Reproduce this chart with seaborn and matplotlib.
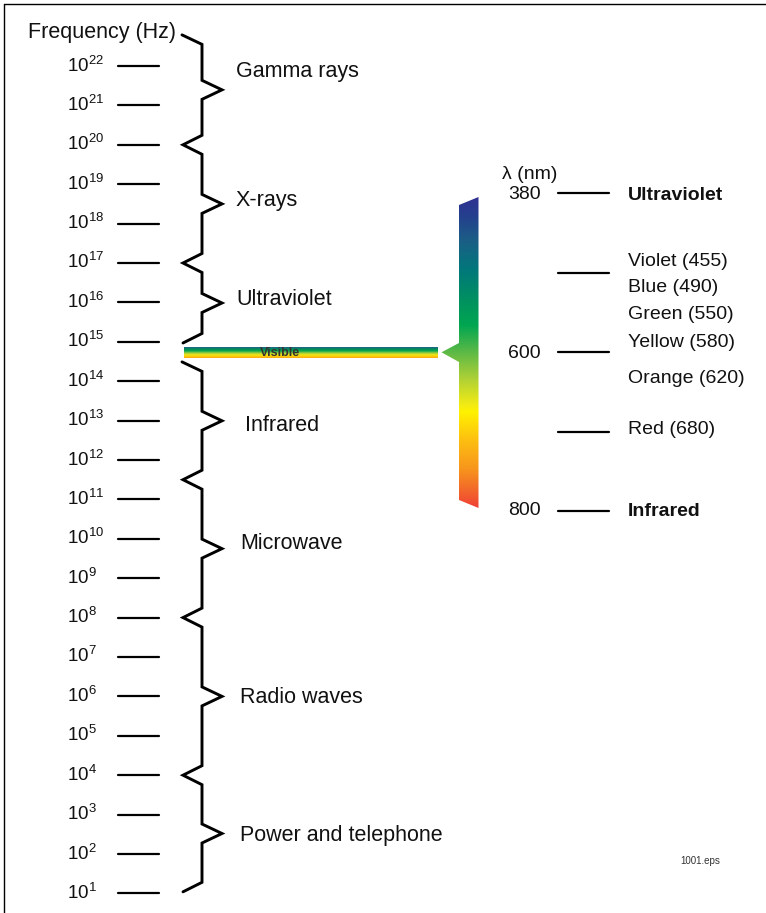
import numpy as np
import pandas as pd
import matplotlib
matplotlib.use("Agg")
import matplotlib.pyplot as plt
from matplotlib.colors import LinearSegmentedColormap
from matplotlib.patches import Polygon
from matplotlib.lines import Line2D
import seaborn as sns

# ---------------- data ----------------
freq_exponents = list(range(22, 0, -1))          # tick labels 10^22 ... 10^1
band_names = ["Gamma rays", "X-rays", "Ultraviolet",
              "Infrared", "Microwave", "Radio waves", "Power and telephone"]
band_upper = [22.79, 20.0, 17.0, 14.49, 11.5, 8.0, 4.0]   # log10(Hz)
band_lower = [20.0, 17.0, 14.97, 11.5, 8.0, 4.0, 1.04]
band_group = [0, 0, 0, 1, 1, 1, 1]
visible_upper = 14.87
visible_lower = 14.60

wl_ticks = ["380", "", "600", "", "800"]          # wavelength scale (nm)
wl_edge_labels = ["Ultraviolet", "Infrared"]
colour_labels = ["Violet (455)", "Blue (490)", "Green (550)",
                 "Yellow (580)", "Orange (620)", "Red (680)"]

# ---------------- style / layout ----------------
sns.set_theme(style="white")
plt.rcParams["font.family"] = ["Liberation Sans", "DejaVu Sans"]
plt.rcParams["mathtext.fontset"] = "custom"
plt.rcParams["mathtext.rm"] = "Liberation Sans"
plt.rcParams["mathtext.it"] = "Liberation Sans:italic"
plt.rcParams["mathtext.bf"] = "Liberation Sans:bold"

W, H = 766, 913
PX_DEC = 39.4            # pixels per decade
Y22 = 66.0               # pixel row of 10^22
SLOT = 79.5              # pixels per wavelength slot
Y380 = 193.0


def e_of_py(py):
    return 22 - (py - Y22) / PX_DEC


def s_of_py(py):
    return (py - Y380) / SLOT


fig = plt.figure(figsize=(W / 100, H / 100), dpi=100)
ax = fig.add_axes([0, 0, 1, 1])
ax2 = fig.add_axes([0, 0, 1, 1], facecolor="none")

TXT = "#111111"

# ---- frequency ticks ----
tick_df = pd.DataFrame({
    "x": [118, 159] * len(freq_exponents),
    "y": [e for e in freq_exponents for _ in range(2)],
    "unit": [e for e in freq_exponents for _ in range(2)],
})
sns.lineplot(data=tick_df, x="x", y="y", units="unit", estimator=None,
             sort=False, color="black", lw=1.6, legend=False, ax=ax)

for e in freq_exponents:
    ax.text(67, e_of_py(Y22 + (22 - e) * PX_DEC + 5.5),
            r"$\mathregular{10^{%d}}$" % e, fontsize=13.5, color=TXT,
            ha="left", va="baseline")

ax.text(28, e_of_py(38), "Frequency (Hz)", fontsize=15.5, color=TXT,
        ha="left", va="baseline")

# ---- braces ----
d = 9.5 / PX_DEC
rows = []
for g in sorted(set(band_group)):
    idx = [i for i, bg in enumerate(band_group) if bg == g]
    top = band_upper[idx[0]]
    pts = [(182, top), (202, top - d)]
    for k, i in enumerate(idx):
        mid = (band_upper[i] + band_lower[i]) / 2
        pts += [(202, mid + d), (222, mid), (202, mid - d)]
        b = band_lower[i]
        if k < len(idx) - 1:
            pts += [(202, b + d), (183, b), (202, b - d)]
        else:
            pts += [(202, b + d), (183, b)]
    for j, (x, y) in enumerate(pts):
        rows.append({"x": x, "y": y, "grp": g, "o": j})
brace_df = pd.DataFrame(rows)
sns.lineplot(data=brace_df, x="x", y="y", units="grp", estimator=None,
             sort=False, color="black", lw=2.1, legend=False, ax=ax,
             solid_joinstyle="miter")

label_x = [236, 236, 236, 245, 240, 240, 240]
label_dy = [-21, -6, -6, 3, -7, -1, 0]
for name, up, lo, lx, dy in zip(band_names, band_upper, band_lower, label_x, label_dy):
    mid = (up + lo) / 2
    py_mid = Y22 + (22 - mid) * PX_DEC + dy
    ax.text(lx, e_of_py(py_mid + 7.7), name, fontsize=15.5, color=TXT,
            ha="left", va="baseline")

# ---- visible band ----
vis_cmap = LinearSegmentedColormap.from_list(
    "vis", ["#24618c", "#00885a", "#00a650", "#7cc242", "#e3e51f",
            "#ffd400", "#f7a51c"])
grad = np.linspace(0, 1, 64).reshape(-1, 1)
ax.imshow(grad, cmap=vis_cmap, aspect="auto", origin="upper",
          extent=(184, 438, visible_lower, visible_upper), zorder=2)
ax.text(260, e_of_py(355.5), "Visible", fontsize=9, fontweight="bold",
        color="#333333", ha="left", va="baseline", zorder=3)

# ---- spectrum bar (right) ----
stops_py = [197, 215, 240, 270, 300, 325, 352, 380, 405, 412, 440, 470, 508]
stops_c = ["#2e3192", "#253f8e", "#1b5e86", "#00787a", "#009160", "#00a651",
           "#5cb947", "#b2d235", "#f2eb14", "#fff200", "#fdc010", "#f7941d",
           "#ef4136"]
pos = [(p - 197) / (508 - 197) for p in stops_py]
spec_cmap = LinearSegmentedColormap.from_list("spec", list(zip(pos, stops_c)))
grad2 = np.linspace(0, 1, 512).reshape(-1, 1)
im = ax2.imshow(grad2, cmap=spec_cmap, aspect="auto", origin="upper",
                extent=(441, 478.5, s_of_py(508), s_of_py(197)), zorder=2)
poly_px = [(459, 205), (478.5, 197), (478.5, 508), (459, 500), (459, 362),
           (441.5, 352.3), (459, 343)]
clip = Polygon([(x, s_of_py(y)) for x, y in poly_px], closed=True,
               transform=ax2.transData, facecolor="none", edgecolor="none")
ax2.add_patch(clip)
im.set_clip_path(clip)

# wavelength tick lines (five evenly spaced slots)
wl_df = pd.DataFrame({
    "x": [558, 609] * len(wl_ticks),
    "y": [i for i in range(len(wl_ticks)) for _ in range(2)],
    "unit": [i for i in range(len(wl_ticks)) for _ in range(2)],
})
sns.lineplot(data=wl_df, x="x", y="y", units="unit", estimator=None,
             sort=False, color="black", lw=1.6, legend=False, ax=ax2)

wl_baseline_py = [198.5, None, 357.5, None, 514.5]
for lab, bpy in zip(wl_ticks, wl_baseline_py):
    if lab:
        ax2.text(508, s_of_py(bpy), lab, fontsize=14, color=TXT,
                 ha="left", va="baseline")

ax2.text(502, s_of_py(179), "λ (nm)", fontsize=14, color=TXT,
         ha="left", va="baseline")

for lab, bpy in zip(wl_edge_labels, [199.5, 515.5]):
    ax2.text(628, s_of_py(bpy), lab, fontsize=14, fontweight="bold",
             color=TXT, ha="left", va="baseline")

colour_baseline_py = [265.5, 292, 319, 347, 383, 433.5]
for lab, bpy in zip(colour_labels, colour_baseline_py):
    ax2.text(628, s_of_py(bpy), lab, fontsize=14, color=TXT,
             ha="left", va="baseline")

ax2.text(680, s_of_py(864), "1001.eps", fontsize=7, color="#333333",
         ha="left", va="baseline")

# ---- limits / frame ----
ax.set_xlim(0, W)
ax.set_ylim(e_of_py(H), e_of_py(0))
ax2.set_xlim(0, W)
ax2.set_ylim(s_of_py(H), s_of_py(0))
ax.axis("off")
ax2.axis("off")

fig.add_artist(Line2D([4 / W, 1], [1 - 4 / H, 1 - 4 / H],
                      transform=fig.transFigure, color="black", lw=1.0))
fig.add_artist(Line2D([4 / W, 4 / W], [0, 1 - 4 / H],
                      transform=fig.transFigure, color="black", lw=1.0))

fig.savefig("out.png", dpi=100, facecolor="white")
